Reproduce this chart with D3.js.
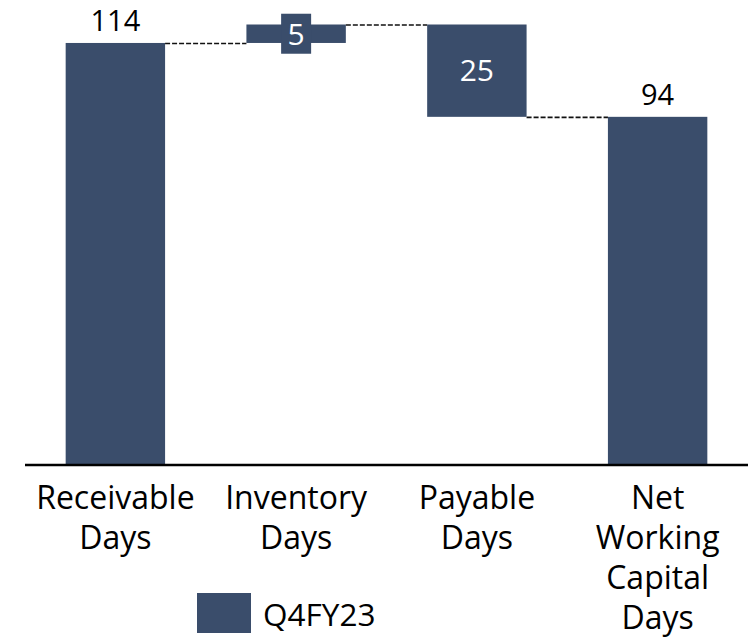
<!DOCTYPE html>
<html><head><meta charset="utf-8">
<script src="https://cdn.jsdelivr.net/npm/d3@7"></script>
<style>body{margin:0;background:#fff}text{font-family:"Open Sans",Lato,sans-serif}</style>
</head><body><svg id="c" width="748" height="638"></svg>
<script>
const categories = [["Receivable","Days"],["Inventory","Days"],["Payable","Days"],["Net","Working","Capital","Days"]];
const changes = [114, 5, -25, 94];
const kinds = ["total","delta","delta","total"];
const seriesName = "Q4FY23";
const color = "#3A4D6B";

const svg = d3.select("#c");
const keys = categories.map(c => c.join(" "));
const x = d3.scaleBand().domain(keys).range([25, 748]).paddingInner(0.45).paddingOuter(0.225);
const y = d3.scaleLinear().domain([0, 119]).range([464, 24.5]);

let run = 0;
const bars = changes.map((v, i) => {
  let lo, hi;
  if (kinds[i] === "total") { lo = 0; hi = v; run = v; }
  else { const s = run; run = run + v; lo = Math.min(s, run); hi = Math.max(s, run); }
  return {key: keys[i], lo, hi, v, end: run, kind: kinds[i]};
});

svg.selectAll("rect.bar").data(bars).join("rect").attr("class","bar")
  .attr("x", d => x(d.key)).attr("width", x.bandwidth())
  .attr("y", d => y(d.hi)).attr("height", d => y(d.lo) - y(d.hi))
  .attr("fill", color);

// connectors
for (let i = 0; i < bars.length - 1; i++) {
  svg.append("line")
    .attr("x1", x(bars[i].key) + x.bandwidth()).attr("x2", x(bars[i+1].key))
    .attr("y1", y(bars[i].end) + 0.5).attr("y2", y(bars[i].end) + 0.5)
    .attr("stroke", "#111").attr("stroke-width", 1.6).attr("stroke-dasharray", "5,2");
}

// axis
svg.append("line").attr("x1", 25).attr("x2", 748).attr("y1", 465).attr("y2", 465)
  .attr("stroke", "#000").attr("stroke-width", 2.5);

// value labels
bars.forEach(d => {
  const cx = x(d.key) + x.bandwidth()/2;
  if (d.kind === "total") {
    svg.append("text").attr("x", cx).attr("y", y(d.hi) - 12).attr("text-anchor","middle")
      .attr("font-size", 29).attr("fill","#000").text(Math.abs(d.v));
  } else {
    const cy = (y(d.hi) + y(d.lo)) / 2;
    const t = svg.append("text").attr("x", cx).attr("y", cy).attr("dy","0.36em").attr("text-anchor","middle")
      .attr("font-size", 30).attr("fill","#fff").text(Math.abs(d.v));
    const bb = t.node().getBBox();
    if (bb.height > y(d.lo) - y(d.hi)) {
      svg.insert("rect", "text:last-of-type").attr("x", cx - 15).attr("width", 30)
        .attr("y", cy - 20).attr("height", 40).attr("fill", color);
      t.raise();
    }
  }
});

// category labels
categories.forEach((lines, i) => {
  const t = svg.append("text").attr("x", x(keys[i]) + x.bandwidth()/2).attr("y", 509)
    .attr("text-anchor","middle").attr("font-size", 32).attr("fill","#000");
  lines.forEach((l, j) => t.append("tspan").attr("x", x(keys[i]) + x.bandwidth()/2).attr("dy", j ? 40 : 0).text(l));
});

// legend
svg.append("rect").attr("x", 197).attr("y", 593).attr("width", 54).attr("height", 40).attr("fill", color);
svg.append("text").attr("x", 263).attr("y", 626).attr("font-size", 31.5).attr("fill","#000").text(seriesName);
</script></body></html>
